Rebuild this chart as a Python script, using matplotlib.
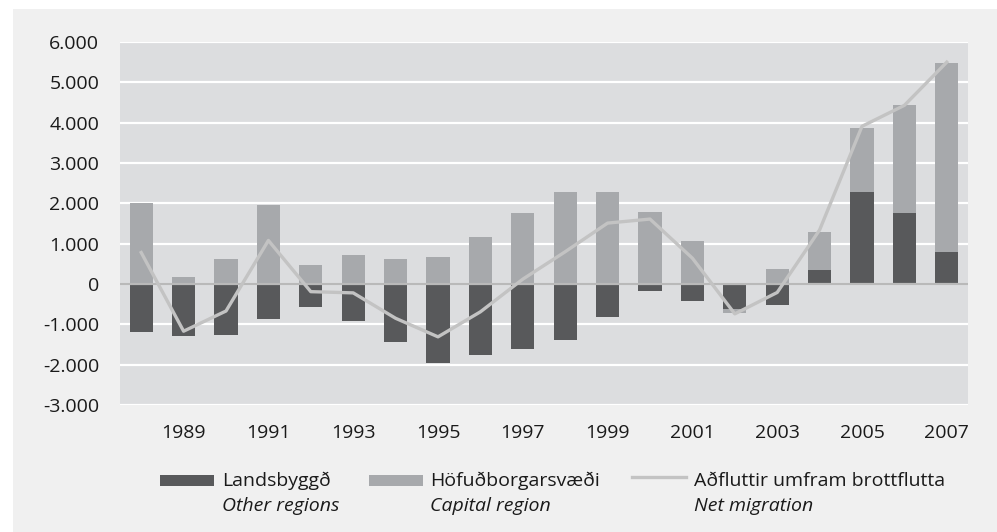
import matplotlib
matplotlib.use('Agg')
import matplotlib.pyplot as plt
from matplotlib.patches import Rectangle
from matplotlib.lines import Line2D
from matplotlib.ticker import FuncFormatter

plt.rcParams['font.family'] = ['Open Sans', 'DejaVu Sans']

years = list(range(1988, 2008))
landsbyggd = [-1200, -1300, -1260, -860, -560, -910, -1450, -1950, -1750, -1600,
              -1400, -810, -170, -420, -630, -510, 350, 2290, 1750, 800]
hofudborg = [2000, 180, 630, 1950, 480, 720, 620, 670, 1170, 1750,
             2290, 2290, 1790, 1070, -80, 370, 950, 1590, 2680, 4680]
net_migration = [780, -1170, -670, 1080, -190, -220, -850, -1310, -690, 120,
                 800, 1510, 1610, 640, -740, -210, 1340, 3910, 4430, 5500]
year_labels = [str(y) if y % 2 == 1 else '' for y in years]

dark = '#58595b'
light = '#a7a9ac'
line_col = '#c3c3c3'
panel = '#f0f0f0'
plot_bg = '#dcdddf'

fig = plt.figure(figsize=(9.97, 5.32), dpi=100, facecolor='white')
fig.add_artist(Rectangle((13 / 997, 0), 1, 1 - 9 / 532, transform=fig.transFigure,
                         facecolor=panel, edgecolor='none', zorder=0))

ax = fig.add_axes([120 / 997, 1 - 405 / 532, 848 / 997, 363 / 532])
ax.set_facecolor(plot_bg)

x = list(range(len(years)))
# light bars stack on the dark ones when they have the same sign
bottoms = [d if (d > 0) == (c > 0) else 0 for d, c in zip(landsbyggd, hofudborg)]
ax.bar(x, landsbyggd, width=0.55, color=dark, zorder=3)
ax.bar(x, hofudborg, width=0.55, bottom=bottoms, color=light, zorder=3)
ax.plot(x, net_migration, color=line_col, linewidth=2.4, zorder=5)

ax.set_ylim(-3000, 6000)
ax.set_xlim(-0.5, len(years) - 0.5)
ax.set_yticks(range(-3000, 6001, 1000))
ax.yaxis.set_major_formatter(FuncFormatter(lambda v, p: f'{int(v):,}'.replace(',', '.')))
ax.set_xticks(x)
ax.set_xticklabels(year_labels)
ax.grid(axis='y', color='white', linewidth=1.6, zorder=1)
ax.axhline(0, color='#b9b9b9', linewidth=1.6, zorder=4)
for s in ax.spines.values():
    s.set_visible(False)
ax.tick_params(length=0, labelsize=14, colors='#1a1a1a')
ax.tick_params(axis='y', pad=15)
ax.tick_params(axis='x', pad=14)

# legend drawn by hand: two lines of text per entry
W, H = 997, 532
def fx(px):
    return px / W
def fy(py):
    return 1 - py / H

fig.add_artist(Rectangle((fx(160), fy(486)), fx(54), 11 / H, transform=fig.transFigure,
                         facecolor=dark, edgecolor='none'))
fig.add_artist(Rectangle((fx(369), fy(486)), fx(54), 11 / H, transform=fig.transFigure,
                         facecolor=light, edgecolor='none'))
fig.add_artist(Line2D([fx(632), fx(686)], [fy(477), fy(477)], transform=fig.transFigure,
                      color=line_col, linewidth=2.4))

entries = [(222, 'Landsbyggð', 'Other regions'),
           (430, 'Höfuðborgarsvæði', 'Capital region'),
           (694, 'Aðfluttir umfram brottflutta', 'Net migration')]
for px, top, bottom in entries:
    fig.text(fx(px), fy(481), top, fontsize=14, va='center', ha='left', color='#1a1a1a')
    fig.text(fx(px), fy(506), bottom, fontsize=14, va='center', ha='left',
             style='italic', color='#1a1a1a')

fig.savefig('out.png', dpi=100, facecolor=fig.get_facecolor())
